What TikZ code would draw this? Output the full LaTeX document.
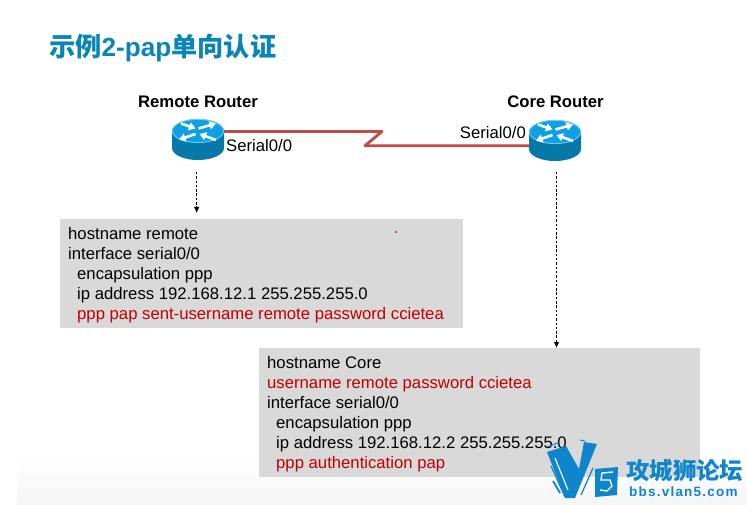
\documentclass[tikz,border=0pt]{standalone}
\usepackage{fontspec}
\setmainfont{Liberation Sans}
\newfontfamily\cjk{Noto Sans CJK SC}
\usetikzlibrary{arrows.meta}
\definecolor{titleblue}{HTML}{0A85B5}
\definecolor{linkred}{HTML}{BE4B48}
\definecolor{cfgred}{HTML}{C00000}
\definecolor{boxgray}{HTML}{D9D9D9}
\definecolor{rside}{HTML}{0679A8}
\definecolor{rtop}{HTML}{0F9FE3}
\definecolor{rrim}{HTML}{6CCBF0}
\definecolor{logoblue}{HTML}{0F86CC}
\tikzset{
  x=1pt,y=-1pt,
  cfgbox/.style={fill=boxgray,draw=none,inner sep=0pt,anchor=north west},
  cfgtext/.style={anchor=base west,inner sep=0pt,font=\fontsize{16.7}{16.7}\selectfont,text=black},
  cfgalert/.style={cfgtext,text=cfgred},
  rname/.style={inner sep=0pt,anchor=base,font=\bfseries\fontsize{16.7}{16.7}\selectfont},
  iflabel/.style={inner sep=0pt,font=\fontsize{16.7}{16.7}\selectfont},
  lead/.style={dash pattern=on 2.5pt off 1.8pt,line width=.8pt,-{Latex[length=6pt,width=5.5pt]}},
  seriallink/.style={draw=linkred,line width=2.8pt,line join=round},
  routerarrow/.style={draw=white,line width=2.6pt,-{Triangle[length=6.5pt,width=8pt]}},
}
\newcommand{\routericon}[2]{%
  \begin{scope}[shift={(#2)}]
    \fill[rside] (-26,0) -- (-26,17) arc[start angle=180,end angle=0,x radius=26,y radius=12] -- (26,0) -- cycle;
    \fill[rtop] (0,0) ellipse[x radius=26,y radius=12];
    \draw[rrim,line width=.9pt] (0,0) ellipse[x radius=25.6,y radius=11.6];
    \draw[routerarrow] (-17,-7.5) -- (-2.5,-2.5);
    \draw[routerarrow] (0.5,-2.5) -- (18,-7.5);
    \draw[routerarrow] (-2.5,3) -- (-19,8.7);
    \draw[routerarrow] (18,9) -- (1.5,3);
    \coordinate (#1) at (0,0);
  \end{scope}}
\begin{document}
\begin{tikzpicture}
\useasboundingbox (0,0) rectangle (747,505);
\fill[white] (0,0) rectangle (747,505);
\shade[top color=white,bottom color=black!4,draw=none] (17,457) rectangle (747,505);

\node[anchor=base west,inner sep=0pt,text=titleblue,font=\bfseries\fontsize{26.2}{26.2}\selectfont] (title) at (49,57) {{\cjk 示例}2-pap{\cjk 单向认证}};

\node[rname] (remotename) at (198,107.2) {Remote Router};
\node[rname] (corename) at (555.5,107.2) {Core Router};

\node[cfgbox,minimum width=403pt,minimum height=109pt] (remotebox) at (60,219) {};
\node[cfgbox,minimum width=441pt,minimum height=129pt] (corebox) at (259,348) {};

\coordinate (linkA) at (215,131.5);
\coordinate (kneeA) at (382,131.5);
\coordinate (kneeB) at (365,145.7);
\coordinate (linkB) at (540,145.7);
\draw[seriallink] (linkA) -- (kneeA) -- (kneeB) -- (linkB);

\routericon{remoterouter}{198,131}
\routericon{corerouter}{555,132}

\node[iflabel,anchor=base west] (ifremote) at (226,152) {Serial0/0};
\node[iflabel,anchor=base east] (ifcore) at (526,138.5) {Serial0/0};

\coordinate (remotefrom) at (196.7,172);
\coordinate (remoteto) at (196.7,213);
\coordinate (corefrom) at (556.5,172);
\coordinate (coreto) at (556.5,348);
\draw[lead] (remotefrom) -- (remoteto);
\draw[lead] (corefrom) -- (coreto);

\node[cfgtext] (r1) at (68,239.2) {hostname remote};
\node[cfgtext] (r2) at (68,259.2) {interface serial0/0};
\node[cfgtext] (r3) at (77,279.2) {encapsulation ppp};
\node[cfgtext] (r4) at (77,299.2) {ip address 192.168.12.1 255.255.255.0};
\node[cfgalert] (r5) at (77,319.2) {ppp pap sent-username remote password ccietea};

\node[cfgtext] (c1) at (267,368.2) {hostname Core};
\node[cfgalert] (c2) at (267,388.2) {username remote password ccietea};
\node[cfgtext] (c3) at (267,408.2) {interface serial0/0};
\node[cfgtext] (c4) at (276,428.2) {encapsulation ppp};
\node[cfgtext] (c5) at (276,448.2) {ip address 192.168.12.2 255.255.255.0};
\node[cfgalert] (c6) at (276,468.2) {ppp authentication pap};

\fill[cfgred] (396,232) circle (1);

% watermark logo
\fill[logoblue] (547,452) -- (566,446) -- (579,469) -- (584,442) -- (597,444) -- (575,498) -- (565,498) -- cycle;
\draw[white,line width=1.1pt] (555,458) -- (568,490);
\draw[logoblue,line width=1pt] (547,447) -- (560,442);
\draw[logoblue,line width=1pt] (580,440) -- (585,441);
\draw[logoblue,line width=1.2pt] (551,466) -- (565,497);
\draw[logoblue,line width=1.8pt] (553,481) -- (560,493);
\draw[logoblue,line width=1.2pt] (593,468) -- (581,495);
\fill[logoblue] (595,469) -- (618,467) -- (617,495) -- (595,497) -- cycle;
\draw[white,line width=1.4pt] (613,472) -- (602,473) -- (601,480) -- (610,480) -- (612,486) -- (607,491) -- (600,490);
\node[anchor=base west,inner sep=0pt,text=logoblue,font=\cjk\bfseries\fontsize{23.4}{23.4}\selectfont] (logocn) at (626,479) {攻城狮论坛};
\node[anchor=base west,inner sep=0pt,text=logoblue,font={\bfseries\fontsize{13.5}{13.5}\selectfont\addfontfeature{LetterSpace=9}}] (logoen) at (629,496) {bbs.vlan5.com};
\end{tikzpicture}
\end{document}
